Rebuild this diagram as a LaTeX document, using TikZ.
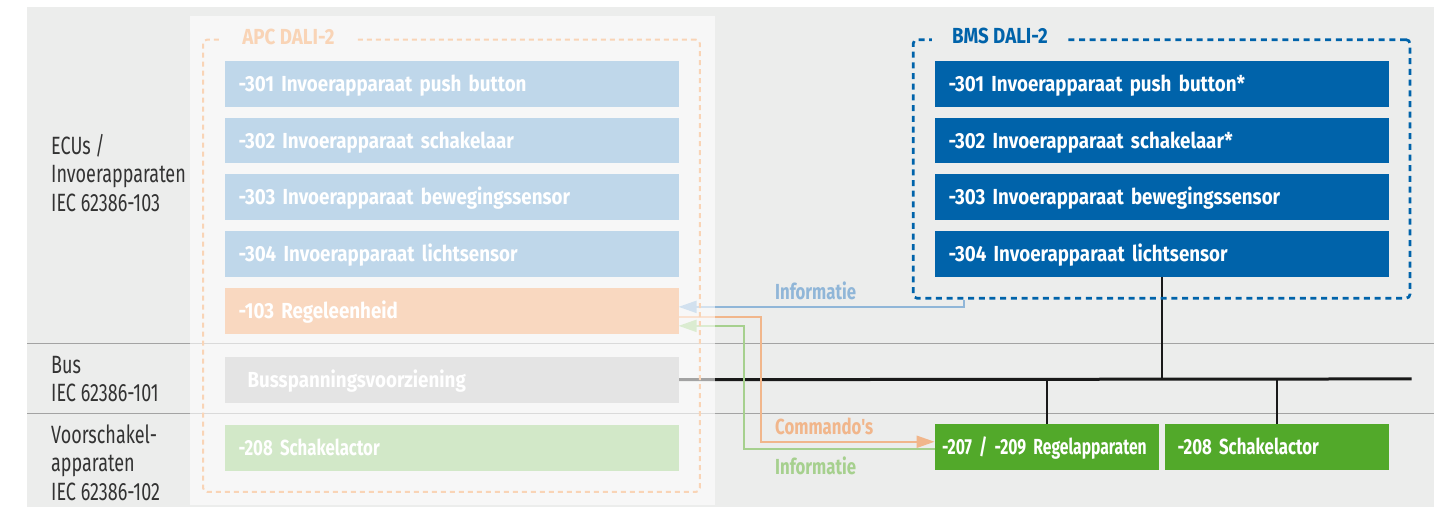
\documentclass[tikz,border=0pt]{standalone}
\usepackage{fontspec}
\setmainfont{Fira Sans}[FakeStretch=0.72]
\newfontfamily\boxfamily{Fira Sans}[FakeStretch=0.86]
\newfontfamily\narrowfamily{Fira Sans}[FakeStretch=0.77]
\newfontfamily\tightfamily{Fira Sans}[FakeStretch=0.72]
\usetikzlibrary{positioning,fit,arrows.meta,backgrounds}

\definecolor{bggray}{HTML}{ECEDEC}
\definecolor{panel}{HTML}{F7F7F7}
\definecolor{rulegray}{HTML}{A3A3A3}
\definecolor{labelgray}{HTML}{333333}
\definecolor{paleblue}{HTML}{BFD7EA}
\definecolor{palepeach}{HTML}{F9D8C0}
\definecolor{palegray}{HTML}{E4E4E4}
\definecolor{palegreen}{HTML}{D2E8C8}
\definecolor{apcpeach}{HTML}{F9D4B6}
\definecolor{bmsblue}{HTML}{0063AA}
\definecolor{daligreen}{HTML}{52A92A}
\definecolor{infoblue}{HTML}{90B6D8}
\definecolor{cmdorange}{HTML}{F1B68B}
\definecolor{infogreen}{HTML}{A6D08E}

\newcommand{\boxfont}{\boxfamily\bfseries\fontsize{21.8}{24}\selectfont}
\newcommand{\narrowfont}{\narrowfamily\bfseries\fontsize{21.8}{24}\selectfont}
\newcommand{\tightfont}{\tightfamily\bfseries\fontsize{21.8}{24}\selectfont}
\newcommand{\sidefont}{\fontsize{25}{28.5}\selectfont}

\begin{document}
\begin{tikzpicture}[
    x=1pt, y=-1pt,
    node distance=11pt,
    box/.style={rectangle, inner xsep=14pt, inner ysep=0pt, outer sep=0pt, text width=426pt, minimum height=45.7pt, align=left, text height=15pt, text depth=0pt, font=\boxfont, text=white},
    narrow/.style={font=\narrowfont},
    apc/.style={box, fill=paleblue},
    bms/.style={box, fill=bmsblue},
    frame/.style={draw, rounded corners=4pt, inner sep=21.4pt},
    frame heading/.style={anchor=west, inner xsep=20pt, inner ysep=4pt, font=\boxfont, text height=15pt, text depth=0pt},
    side/.style={anchor=base west, align=left, font=\sidefont, text=labelgray, inner sep=0pt},
    bus/.style={line width=3pt, black!90},
    drop/.style={line width=2pt, black!90},
    flow/.style={line width=2pt, -{Triangle[length=18pt, width=12pt]}},
    flow label/.style={anchor=base west, inner sep=0pt, font=\narrowfont}
]
    \useasboundingbox (0,0) rectangle (1445,507);

    % Place nodes
    \node [apc] (apc301) at (451.5,83.9) {-301 Invoerapparaat push button};
    \node [apc, below=of apc301] (apc302) {-302 Invoerapparaat schakelaar};
    \node [apc, below=of apc302] (apc303) {-303 Invoerapparaat bewegingssensor};
    \node [apc, below=of apc303] (apc304) {-304 Invoerapparaat lichtsensor};
    \node [box, fill=palepeach, below=of apc304] (apc103) {-103 Regeleenheid};
    \node [box, fill=palegray, inner xsep=23pt, text width=408pt, below=23.3pt of apc103] (supply) {Busspanningsvoorziening};
    \node [box, narrow, fill=palegreen, below=22.3pt of supply] (apc208) {-208 Schakelactor};

    \node [bms] (bms301) at (1161.6,83.9) {-301 Invoerapparaat push button*};
    \node [bms, below=of bms301] (bms302) {-302 Invoerapparaat schakelaar*};
    \node [bms, below=of bms302] (bms303) {-303 Invoerapparaat bewegingssensor};
    \node [bms, below=of bms303] (bms304) {-304 Invoerapparaat lichtsensor};

    \node [box, font=\tightfont, fill=daligreen, inner xsep=7.4pt, text width=209.6pt] (reg) at (1046.8,446.9) {\mbox{-207 / -209 Regelapparaten}};
    \node [box, narrow, fill=daligreen, inner xsep=12.7pt, text width=198.5pt, right=5.9pt of reg] (act) {-208 Schakelactor};

    % Fit cluster edges
    \node [frame, draw=apcpeach, line width=2pt, dash pattern=on 5pt off 4pt, fit=(apc301) (apc208)] (apcframe) {};
    \node [frame, draw=bmsblue, line width=2.7pt, dash pattern=on 6pt off 4.7pt, fit=(bms301) (bms304)] (bmsframe) {};

    % Headings
    \node [frame heading, fill=panel, text=apcpeach] (apc heading) at ([shift={(20pt,2pt)}]apcframe.north west) {APC DALI-2};
    \node [frame heading, fill=bggray, text=bmsblue] (bms heading) at ([shift={(20pt,2pt)}]bmsframe.north west) {BMS DALI-2};

    % Layer names (base = last line)
    \node [side] (ecu label) at (51,211) {ECUs /\\Invoerapparaten\\IEC 62386-103};
    \node [side] (bus label) at (51,401.7) {Bus\\IEC 62386-101};
    \node [side] (gear label) at (51,500) {Voorschakel-\\apparaten\\IEC 62386-102};

    % Flow labels
    \node [flow label, text=infoblue] (info top) at (775,299) {Informatie};
    \node [flow label, text=cmdorange] (commands) at (775,434.3) {Commando's};
    \node [flow label, text=infogreen] (info bottom) at (775,474) {Informatie};

    \coordinate (busend) at (1411.7,378.9);

    \begin{scope}[on background layer]
        \fill [bggray] (27.3,6.7) rectangle (1434,507);
        \draw [rulegray, line width=1.5pt] (27.3,343.3) -- (1434,343.3);
        \draw [rulegray, line width=1.5pt] (27.3,413.3) -- (1434,413.3);

        % Draw bus
        \draw [bus] (supply.east) -- (busend);
        \draw [drop] (bms304.south) -- (bms304.south |- busend);
        \draw [drop] (reg.north) -- (reg.north |- busend);
        \draw [drop] (act.north) -- (act.north |- busend);

        % Draw edges
        \draw [flow, infoblue] ([xshift=52pt]bmsframe.south west) |- ([yshift=3.85pt]apc103.east);
        \draw [flow, cmdorange] ([yshift=-6.15pt]apc103.east) -- ++(82,0) |- ([yshift=5.15pt]reg.west);
        \draw [flow, infogreen] ([yshift=-2.45pt]reg.west) -- ++(-190.6,0) |- ([yshift=-15.15pt]apc103.east);

        % Wash over the APC side
        \fill [white, opacity=0.6] ([shift={(-12,-22.6)}]apcframe.north west) rectangle ([shift={(13.7,12)}]apcframe.south east);
    \end{scope}
\end{tikzpicture}
\end{document}
